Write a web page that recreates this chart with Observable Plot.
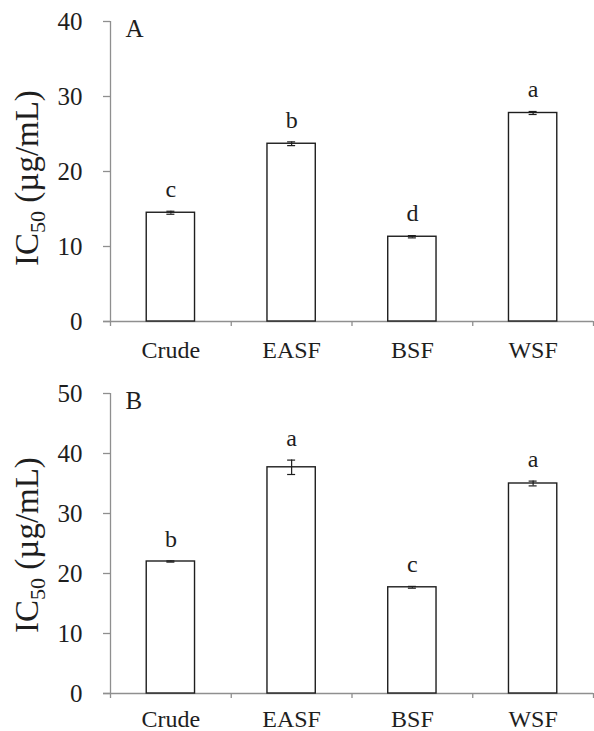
<!DOCTYPE html>
<html><head><meta charset="utf-8">
<script src="https://cdn.jsdelivr.net/npm/d3@7"></script>
<script src="https://cdn.jsdelivr.net/npm/@observablehq/plot@0.6"></script>
<style>
body{margin:0;background:#fff;}
#chart{width:594px;}
#chart svg{display:block;}
</style></head><body><div id="chart"></div>
<script>
const categories = ["Crude", "EASF", "BSF", "WSF"];
const valuesA = [14.5, 23.7, 11.3, 27.8];
const errorsA = [0.2, 0.25, 0.15, 0.2];
const lettersA = ["c", "b", "d", "a"];
const valuesB = [22.0, 37.7, 17.7, 35.0];
const errorsB = [0.1, 1.2, 0.15, 0.4];
const lettersB = ["b", "a", "c", "a"];
const ticksA = [0, 10, 20, 30, 40];
const ticksB = [0, 10, 20, 30, 40, 50];

const FONT = "'Liberation Serif','Times New Roman',serif";
const AXIS = "#8f8f8f";
const INK = "#1e1e1e";

function panel({values, errors, letters, ticks, tag, height, marginTop, marginBottom, labelPad, titleShift}) {
  const data = categories.map((c, i) => ({
    c, i, v: values[i], lo: values[i] - errors[i], hi: values[i] + errors[i], l: letters[i]
  }));
  const mid = d => d.i + 0.5;
  const svg = Plot.plot({
    width: 594, height, marginTop, marginBottom, marginLeft: 110, marginRight: 1,
    style: {fontFamily: FONT, fontSize: "24px", color: INK, background: "white", overflow: "visible"},
    x: {type: "linear", domain: [0, categories.length], axis: null},
    y: {domain: [0, ticks[ticks.length - 1]], axis: null},
    marks: [
      Plot.axisY(ticks, {tickSize: 7, tickPadding: 21, stroke: AXIS, strokeWidth: 1.3, fill: INK, fontSize: 25, tickFormat: d => String(d), label: null}),
      Plot.axisX(d3.range(categories.length + 1), {tickSize: 5, stroke: AXIS, strokeWidth: 1.3, tickFormat: () => "", label: null}),
      Plot.axisX(categories.map((c, i) => i + 0.5), {tickSize: 0, tickPadding: labelPad, fill: INK, fontSize: 24, tickFormat: d => categories[Math.floor(d)], label: null}),
      Plot.ruleX([0], {stroke: AXIS, strokeWidth: 1.3}),
      Plot.ruleY([0], {stroke: AXIS, strokeWidth: 1.3, insetLeft: -7}),
      Plot.rectY(data, {x1: d => d.i + 0.3, x2: d => d.i + 0.7, y1: 0, y2: "v", fill: "white", stroke: INK, strokeWidth: 1.4}),
      Plot.ruleX(data, {x: mid, y1: "lo", y2: "hi", stroke: INK, strokeWidth: 1.2}),
      Plot.ruleY(data, {x1: mid, x2: mid, y: "lo", insetLeft: -4, insetRight: -4, stroke: INK, strokeWidth: 1.2}),
      Plot.ruleY(data, {x1: mid, x2: mid, y: "hi", insetLeft: -4, insetRight: -4, stroke: INK, strokeWidth: 1.2}),
      Plot.text(data, {x: mid, y: "hi", text: "l", lineAnchor: "middle", dy: -22, fontSize: 24, fill: INK}),
      Plot.text([tag], {frameAnchor: "top-left", dx: 15, dy: -2, lineAnchor: "top", textAnchor: "start", fontSize: 25, fill: INK})
    ]
  });
  const cy = (marginTop + height - marginBottom) / 2 + titleShift;
  const t = d3.select(svg).append("text")
    .attr("transform", `translate(38,${cy}) rotate(-90)`)
    .attr("text-anchor", "middle")
    .attr("font-family", FONT)
    .attr("font-size", 33)
    .attr("fill", INK);
  t.append("tspan").text("IC");
  t.append("tspan").attr("font-size", 22).attr("dy", 7).text("50");
  t.append("tspan").attr("dy", -7).text(" (µg/mL)");
  return svg;
}

const root = document.getElementById("chart");
root.appendChild(panel({values: valuesA, errors: errorsA, letters: lettersA, ticks: ticksA, tag: "A", height: 365, marginTop: 21, marginBottom: 44, labelPad: 19, titleShift: 7}));
root.appendChild(panel({values: valuesB, errors: errorsB, letters: lettersB, ticks: ticksB, tag: "B", height: 366, marginTop: 28, marginBottom: 38, labelPad: 16, titleShift: 2}));
</script>
</body></html>
